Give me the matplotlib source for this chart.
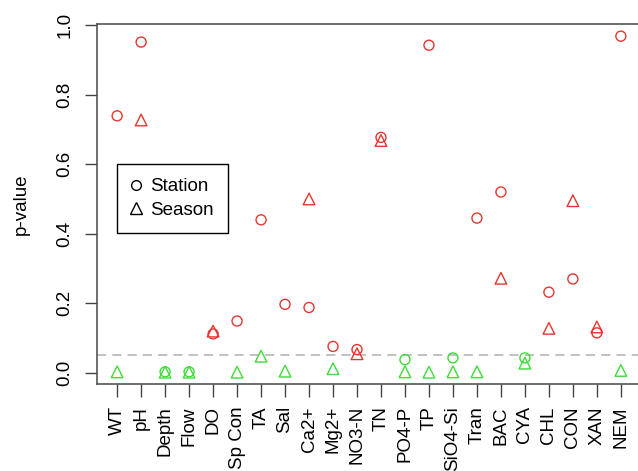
import numpy as np
import matplotlib
matplotlib.use("Agg")
import matplotlib.pyplot as plt
from matplotlib.lines import Line2D

plt.rcParams['font.family'] = ['Liberation Sans', 'DejaVu Sans']

# variable names and p-values
variables = ["WT", "pH", "Depth", "Flow", "DO", "Sp Con", "TA", "Sal", "Ca2+", "Mg2+",
             "NO3-N", "TN", "PO4-P", "TP", "SiO4-Si", "Tran", "BAC", "CYA", "CHL",
             "CON", "XAN", "NEM"]
station_p = [0.739, 0.951, 0.003, 0.003, 0.112, 0.149, 0.440, 0.197, 0.188, 0.076,
             0.067, 0.677, 0.038, 0.942, 0.043, 0.445, 0.520, 0.043, 0.232,
             0.270, 0.115, 0.968]
season_p = [0.003, 0.727, 0.002, 0.002, 0.120, 0.002, 0.048, 0.005, 0.500, 0.012,
            0.055, 0.668, 0.003, 0.002, 0.003, 0.003, 0.272, 0.028, 0.128,
            0.495, 0.132, 0.007]
alpha = 0.05

RED = '#e8352f'
GREEN = '#3ddc3a'
FS = 13.5

x = np.arange(1, len(variables) + 1)
station_p = np.array(station_p)
season_p = np.array(season_p)

fig = plt.figure(figsize=(6.38, 4.71), dpi=100)
# right edge of the box sits just outside the picture, like the original
ax = fig.add_axes([97/638, 1 - 384/471, 544/638, 360/471])

col_st = [RED if p > alpha else GREEN for p in station_p]
col_se = [RED if p > alpha else GREEN for p in season_p]

ax.axhline(alpha, color='#b0b0b0', lw=1.1, dashes=(6, 4), zorder=1)
ax.scatter(x, station_p, s=52, marker='o', facecolors='none', edgecolors=col_st,
           linewidths=1.0, zorder=3)
ax.scatter(x, season_p, s=70, marker='^', facecolors='none', edgecolors=col_se,
           linewidths=1.0, zorder=3)

ax.set_xlim(0.16, 22.84)
ax.set_ylim(-0.032, 1.003)

ax.set_xticks(x)
ax.set_xticklabels(variables, rotation=90, fontsize=FS)
ax.set_yticks([0.0, 0.2, 0.4, 0.6, 0.8, 1.0])
ax.set_yticklabels(["0.0", "0.2", "0.4", "0.6", "0.8", "1.0"], rotation=90,
                   va='center', fontsize=FS)
ax.tick_params(axis='x', length=9, width=1, color='#444444', pad=7)
ax.tick_params(axis='y', length=9, width=1, color='#444444', pad=8)
ax.set_ylabel("p-value", fontsize=FS, labelpad=19)

for s in ax.spines.values():
    s.set_color('#555555')
    s.set_linewidth(1.2)

handles = [Line2D([], [], ls='none', marker='o', mfc='none', mec='black', ms=7, mew=1.0),
           Line2D([], [], ls='none', marker='^', mfc='none', mec='black', ms=8, mew=1.0)]
leg = ax.legend(handles, ["Station", "Season"], loc='upper left',
                bbox_to_anchor=(117/638, 1 - 164/471), bbox_transform=fig.transFigure,
                fancybox=False, framealpha=1, edgecolor='black', fontsize=FS,
                handlelength=0.5, handletextpad=0.5, borderpad=0.75, labelspacing=0.35,
                borderaxespad=0)
leg.get_frame().set_linewidth(1.0)

fig.savefig("out.png", dpi=100)
